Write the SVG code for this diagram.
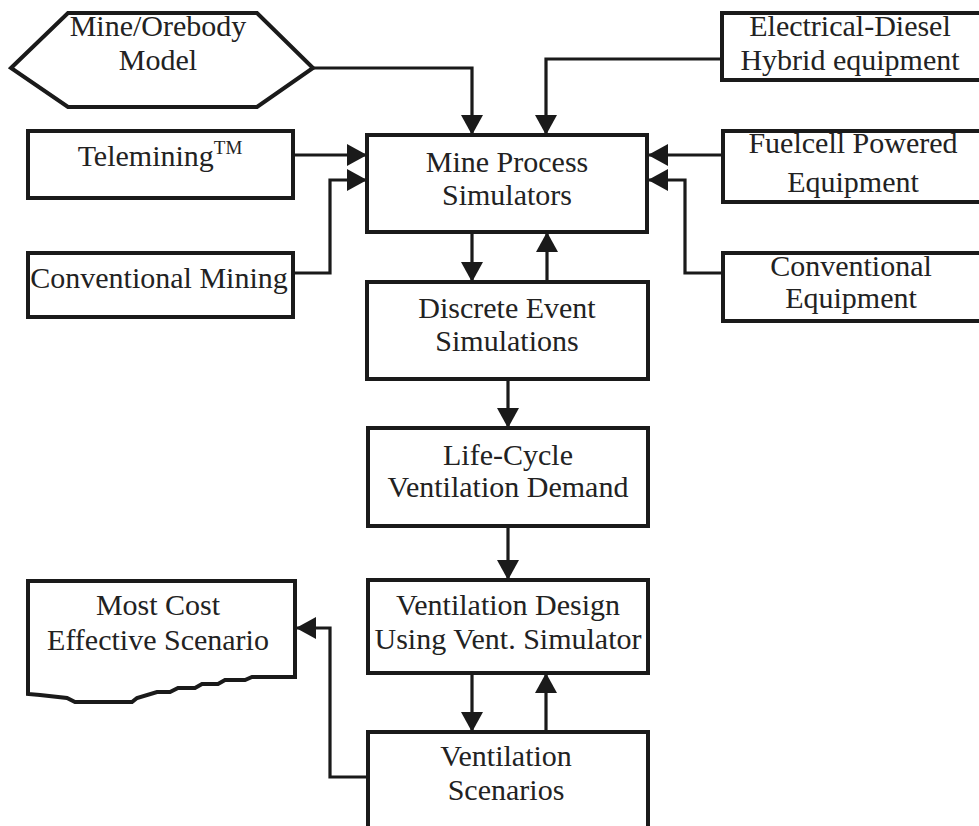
<svg xmlns="http://www.w3.org/2000/svg" width="979" height="826" viewBox="0 0 979 826">
<style>
.box{fill:#fff;stroke:#1a1a1a;stroke-width:4}
.c{fill:none;stroke:#1a1a1a;stroke-width:3.2}
text{font-family:"Liberation Serif","Times New Roman",serif;font-size:30px;fill:#222;text-anchor:middle}
</style>
<defs>
<marker id="arr" viewBox="0 0 20 22" refX="20" refY="11" markerWidth="20" markerHeight="22" orient="auto" markerUnits="userSpaceOnUse">
<path d="M0,0 L20,11 L0,22 Z" fill="#1a1a1a"/>
</marker>
</defs>
<rect width="979" height="826" fill="#fff"/>
<g id="connectors">
<path class="c" d="M313,68 H472 V135" marker-end="url(#arr)"/>
<path class="c" d="M722,59 H546 V135" marker-end="url(#arr)"/>
<path class="c" d="M293,155 H367" marker-end="url(#arr)"/>
<path class="c" d="M293,273 H330 V180 H367" marker-end="url(#arr)"/>
<path class="c" d="M723,155 H648" marker-end="url(#arr)"/>
<path class="c" d="M723,273 H685 V180 H648" marker-end="url(#arr)"/>
<path class="c" d="M472,232 V282" marker-end="url(#arr)"/>
<path class="c" d="M547,282 V232" marker-end="url(#arr)"/>
<path class="c" d="M508,379 V428" marker-end="url(#arr)"/>
<path class="c" d="M508,526 V580" marker-end="url(#arr)"/>
<path class="c" d="M472,673 V732" marker-end="url(#arr)"/>
<path class="c" d="M546,732 V673" marker-end="url(#arr)"/>
<path class="c" d="M368,777 H330 V628 H296" marker-end="url(#arr)"/>
</g>
<g id="mine-orebody">
<polygon class="box" points="11,68 68,13 257,13 313,68 257,107 68,107"/>
<text x="158" y="36">Mine/Orebody</text>
<text x="158" y="70">Model</text>
</g>
<g id="electrical-diesel">
<rect class="box" x="722" y="13" width="270" height="67"/>
<text x="850" y="36">Electrical-Diesel</text>
<text x="850" y="70">Hybrid equipment</text>
</g>
<g id="telemining">
<rect class="box" x="28" y="131" width="265" height="67"/>
<text x="160" y="166">Telemining<tspan font-size="19" dy="-12">TM</tspan></text>
</g>
<g id="conventional-mining">
<rect class="box" x="28" y="253" width="265" height="64"/>
<text x="159" y="288">Conventional Mining</text>
</g>
<g id="mine-process">
<rect class="box" x="367" y="135" width="280" height="97"/>
<text x="507" y="172">Mine Process</text>
<text x="507" y="205">Simulators</text>
</g>
<g id="fuelcell">
<rect class="box" x="723" y="131" width="270" height="71"/>
<text x="853" y="153">Fuelcell Powered</text>
<text x="853" y="192">Equipment</text>
</g>
<g id="conventional-equipment">
<rect class="box" x="723" y="253" width="270" height="68"/>
<text x="851" y="276">Conventional</text>
<text x="851" y="308">Equipment</text>
</g>
<g id="discrete-event">
<rect class="box" x="367" y="282" width="281" height="97"/>
<text x="507" y="318">Discrete Event</text>
<text x="507" y="351">Simulations</text>
</g>
<g id="life-cycle">
<rect class="box" x="368" y="428" width="280" height="98"/>
<text x="508" y="465">Life-Cycle</text>
<text x="508" y="497">Ventilation Demand</text>
</g>
<g id="ventilation-design">
<rect class="box" x="368" y="580" width="280" height="93"/>
<text x="508" y="615">Ventilation Design</text>
<text x="508" y="649">Using Vent. Simulator</text>
</g>
<g id="ventilation-scenarios">
<rect class="box" x="368" y="732" width="280" height="110"/>
<text x="506" y="766">Ventilation</text>
<text x="506" y="800">Scenarios</text>
</g>
<g id="most-cost-effective">
<path class="box" d="M28,581 H295 V677 H252 L245,680 H225 L218,684 H202 L195,688 H178 L170,692 H157 L137,698 L132,702 H75 L67,698 L40,695 L28,694 Z"/>
<text x="158" y="615">Most Cost</text>
<text x="158" y="650">Effective Scenario</text>
</g>
</svg>
